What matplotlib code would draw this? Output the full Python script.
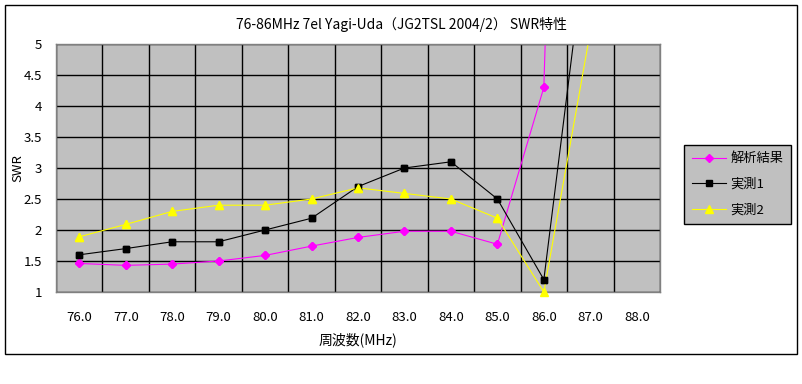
import numpy as np
import matplotlib
matplotlib.use("Agg")
import matplotlib.pyplot as plt
from matplotlib.patches import Rectangle

plt.rcParams['font.family'] = ['Noto Sans CJK JP', 'DejaVu Sans']

# data
freq_labels = ["76.0", "77.0", "78.0", "79.0", "80.0", "81.0", "82.0",
               "83.0", "84.0", "85.0", "86.0", "87.0", "88.0"]
nan = np.nan
kaiseki = [1.46, 1.43, 1.45, 1.50, 1.59, 1.74, 1.88, 1.98, 1.98, 1.77, 4.30, 29.0, nan]
jissoku1 = [1.60, 1.70, 1.81, 1.81, 2.00, 2.19, 2.70, 3.00, 3.10, 2.50, 1.20, 7.2, nan]
jissoku2 = [1.89, 2.09, 2.30, 2.40, 2.40, 2.50, 2.68, 2.59, 2.50, 2.19, 1.00, 5.2, nan]

series = [
    ("解析結果", kaiseki, "#FF00FF", "D", 4.5),
    ("実測1", jissoku1, "#000000", "s", 4.5),
    ("実測2", jissoku2, "#FFFF00", "^", 5.5),
]

fig = plt.figure(figsize=(8.03, 3.84), dpi=100)
ax = fig.add_axes([56 / 803, 1 - 292 / 384, 604 / 803, 248 / 384])
ax.set_facecolor("#C0C0C0")

x = np.arange(len(freq_labels))
handles = []
for name, vals, col, mk, ms in series:
    v = np.array(vals, dtype=float)
    h, = ax.plot(x, v, color=col, lw=0.8, marker=mk, markersize=ms,
                 markeredgecolor=col, markerfacecolor=col, label=name)
    handles.append(h)
    # markers sitting on the axis edge are not cut off
    inside = (v >= 1) & (v <= 5)
    ax.plot(x[inside], v[inside], ls="none", marker=mk, markersize=ms,
            color=col, clip_on=False, zorder=4)

ax.set_xlim(-0.5, len(freq_labels) - 0.5)
ax.set_ylim(1, 5)
ax.set_yticks(np.arange(1, 5.01, 0.5))
ax.set_yticklabels(["1", "1.5", "2", "2.5", "3", "3.5", "4", "4.5", "5"])
ax.set_xticks(x)
ax.set_xticklabels(freq_labels)
ax.set_xticks(np.arange(-0.5, len(freq_labels), 1), minor=True)
ax.tick_params(axis="both", which="both", length=0, labelsize=9.5)
ax.tick_params(axis="x", pad=14)
ax.tick_params(axis="y", pad=10)
ax.grid(True, axis="y", which="major", color="black", lw=1.0)
ax.grid(True, axis="x", which="minor", color="black", lw=1.0)
ax.set_axisbelow(True)
for sp in ax.spines.values():
    sp.set_color("#808080")
    sp.set_linewidth(1.0)

ax.set_xlabel("周波数(MHz)", fontsize=10, labelpad=6)
ax.set_ylabel("SWR", fontsize=9.5)
ax.yaxis.set_label_coords(-32 / 604, 0.5)
fig.text(0.5, 1 - 24 / 384, "76-86MHz 7el Yagi-Uda（JG2TSL 2004/2） SWR特性",
         ha="center", va="center", fontsize=10)

leg = fig.legend(handles=handles, loc="center",
                 bbox_to_anchor=(678 / 803, 1 - 226 / 384, 119 / 803, 83 / 384),
                 fontsize=9.5, frameon=True, fancybox=False, edgecolor="black",
                 facecolor="#C0C0C0", framealpha=1, handlelength=2.6,
                 labelspacing=0.95, handletextpad=0.3, borderpad=0.6)
leg.get_frame().set_linewidth(1.0)

# outer chart frame
fig.patches.append(Rectangle((5 / 803, 1 - 354 / 384), 792 / 803, 349 / 384,
                             transform=fig.transFigure, fill=False,
                             edgecolor="black", lw=1.0))

fig.savefig("out.png", dpi=100)
